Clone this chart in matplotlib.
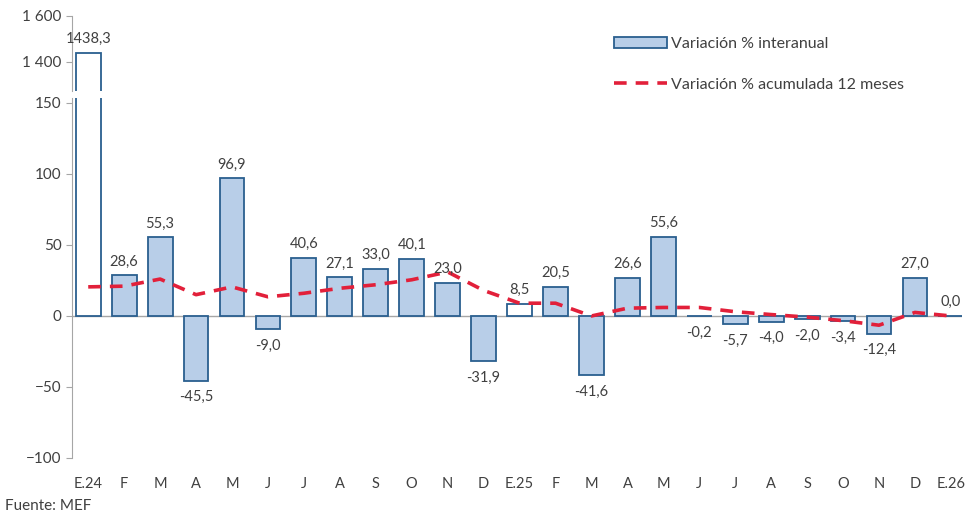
import matplotlib.pyplot as plt
from matplotlib.patches import Patch
import numpy as np

plt.rcParams['font.family'] = ['Lato', 'DejaVu Sans']

meses = ['E.24', 'F', 'M', 'A', 'M', 'J', 'J', 'A', 'S', 'O', 'N', 'D',
         'E.25', 'F', 'M', 'A', 'M', 'J', 'J', 'A', 'S', 'O', 'N', 'D', 'E.26']
interanual = [1438.3, 28.6, 55.3, -45.5, 96.9, -9.0, 40.6, 27.1, 33.0, 40.1, 23.0, -31.9,
              8.5, 20.5, -41.6, 26.6, 55.6, -0.2, -5.7, -4.0, -2.0, -3.4, -12.4, 27.0, 0.0]
acumulada = [20.5, 21.0, 26.0, 15.0, 20.5, 13.5, 16.0, 19.5, 22.0, 25.5, 31.0, 18.0,
             9.0, 9.0, 0.0, 5.5, 6.0, 6.0, 3.0, 1.0, -0.8, -3.3, -6.5, 2.5, 0.0]
# meses de enero con barra blanca
blancos = [0, 12, 24]

fill = '#B8CEE8'
edge = '#2A5F8F'
red = '#E2203A'
grey = '#A6A6A6'
txt = '#404040'

x = np.arange(len(meses))
colores = ['white' if i in blancos else fill for i in x]

fig = plt.figure(figsize=(9.67, 5.15), dpi=100)
ax_top = fig.add_axes([0.0745, 0.823, 0.92, 0.146])
ax = fig.add_axes([0.0745, 0.1107, 0.92, 0.699])

for a in (ax, ax_top):
    a.bar(x, interanual, width=0.69, color=colores, edgecolor=edge, linewidth=1.3, zorder=2)
    a.set_xlim(-0.45, 24.3)
    for s in ('top', 'right', 'bottom'):
        a.spines[s].set_visible(False)
    a.spines['left'].set_color(grey)
    a.tick_params(axis='y', colors=grey, labelcolor=txt, labelsize=11, length=4)

linea, = ax.plot(x, acumulada, color=red, linestyle=(0, (3.5, 2.5)), linewidth=2.6, zorder=3)
ax.axhline(0, color=grey, linewidth=1, zorder=1)

ax.set_ylim(-100, 153.5)
ax.set_yticks([-100, -50, 0, 50, 100, 150])
ax.set_xticks(x)
ax.set_xticklabels(meses)
ax.tick_params(axis='x', length=0, labelsize=10.5, labelcolor=txt, pad=14)

ax_top.set_ylim(1270, 1600)
ax_top.set_yticks([1400, 1600])
ax_top.set_yticklabels(['1 400', '1 600'])
ax_top.set_xticks([])

for i, v in enumerate(interanual):
    lab = f'{v:.1f}'.replace('.', ',')
    if i == 0:
        ax_top.annotate(lab, (i, v), xytext=(0, 5), textcoords='offset points',
                        ha='center', va='bottom', fontsize=10.5, color=txt)
    elif v >= 0:
        ax.annotate(lab, (i, v), xytext=(0, 5), textcoords='offset points',
                    ha='center', va='bottom', fontsize=10.5, color=txt)
    else:
        ax.annotate(lab, (i, v), xytext=(0, -7), textcoords='offset points',
                    ha='center', va='top', fontsize=10.5, color=txt)

barra = Patch(facecolor=fill, edgecolor=edge, linewidth=1.3)
fig.legend([barra, linea], ['Variación % interanual', 'Variación % acumulada 12 meses'],
           loc='upper left', bbox_to_anchor=(0.62, 0.957), frameon=False, fontsize=11.5,
           labelcolor=txt, handlelength=3.3, handletextpad=0.3, labelspacing=1.7)

fig.text(0.005, 0.01, 'Fuente: MEF', fontsize=11, color=txt)

fig.savefig('out.png', dpi=100)
